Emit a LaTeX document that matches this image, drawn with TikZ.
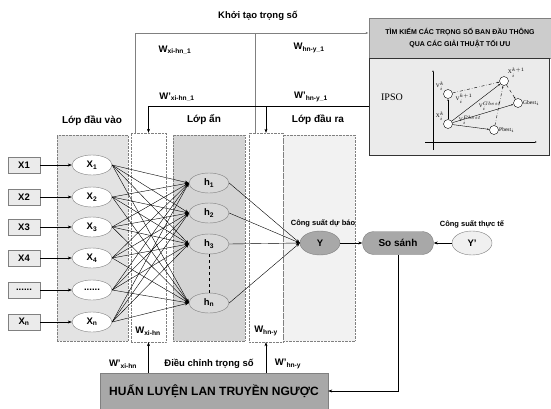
\documentclass[tikz,border=0pt]{standalone}
\usepackage{fontspec}
\setmainfont{Liberation Sans}
\newfontfamily\ipsofont{Liberation Serif}
\usetikzlibrary{arrows.meta,shapes.geometric}

\definecolor{laygray}{HTML}{E3E3E3}
\definecolor{hidgray}{HTML}{D4D4D4}
\definecolor{outgray}{HTML}{F2F2F2}
\definecolor{darkfill}{HTML}{A8A8A8}
\newcommand{\sixdots}{......}

\begin{document}
\begin{tikzpicture}[
  x=1pt, y=-1pt,
  font=\bfseries\fontsize{9.5}{11}\selectfont,
  >={Stealth[length=4pt,width=3pt]},
  layer/.style={draw=gray, densely dotted, minimum width=#1, minimum height=206pt, inner sep=0pt},
  wbox/.style={draw=gray, densely dotted, fill=white, minimum width=35pt, minimum height=209pt, inner sep=0pt},
  inbox/.style={draw=gray, fill=black!8, minimum width=32pt, minimum height=16pt, inner sep=0pt},
  neu/.style={ellipse, draw=gray, fill=white, minimum width=40pt, minimum height=20pt, inner sep=0pt},
  hid/.style={neu, fill=black!15},
  lbl/.style={inner sep=1pt},
  head/.style={font=\bfseries\fontsize{10}{12}\selectfont},
  small/.style={inner sep=1pt, font=\bfseries\fontsize{7.5}{9}\selectfont},
  part/.style={circle, draw, fill=white, minimum size=9pt, inner sep=0pt},
  plbl/.style={font=\ipsofont\fontsize{5.5}{6}\selectfont, inner sep=0.3pt}
]
  \useasboundingbox (0,0) rectangle (551,409);

  % layers
  \node[layer=71pt, fill=laygray] (inl) at (92.5,238) {};
  \node[layer=72pt, fill=hidgray] (hl) at (209,238) {};
  \node[layer=72pt, fill=outgray] (ol) at (319,238) {};
  \node[wbox] (w1) at (148.5,237.5) {};
  \node[wbox, minimum width=34pt] (w2) at (266,237.5) {};
  \node[lbl] at (148,331) {W\textsubscript{xi-hn}};
  \node[lbl] at (266,331) {W\textsubscript{hn-y}};

  \node[head] at (92,121) {Lớp đầu vào};
  \node[head] at (204,120) {Lớp ẩn};
  \node[head] at (318,120) {Lớp đầu ra};

  % inputs
  \foreach \i/\t/\e/\y in {1/X1/X\textsubscript{1}/165, 2/X2/X\textsubscript{2}/197,
      3/X3/X\textsubscript{3}/227, 4/X4/X\textsubscript{4}/258, 5/\sixdots/\sixdots/290,
      6/X\textsubscript{n}/X\textsubscript{n}/322} {
    \node[inbox] (in\i) at (24,\y) {\t};
    \node[neu] (x\i) at (92,\y) {\e};
    \draw[->] (in\i) -- (x\i);
  }

  % hidden
  \node[hid] (h1) at (209,183) {h\textsubscript{1}};
  \node[hid] (h2) at (209,213) {h\textsubscript{2}};
  \node[hid] (h3) at (209,244) {h\textsubscript{3}};
  \node[hid] (h4) at (209,303) {h\textsubscript{n}};
  \draw[dashed] (h3) -- (h4);

  \foreach \a in {1,2,3,4,5,6}
    \foreach \b in {1,2,3,4}
      \draw[->] (x\a.east) -- (h\b.west);

  % output and compare
  \node[neu, fill=darkfill, minimum height=24pt] (y) at (320,243) {Y};
  \node[small] at (323,223) {Công suất dự báo};
  \node[draw=gray, fill=darkfill, rounded corners=11pt, minimum width=71pt, minimum height=23pt,
        font=\bfseries\fontsize{10}{11}\selectfont] (ss) at (398,243) {So sánh};
  \node[neu, fill=black!6, minimum height=24pt] (yp) at (472,243) {Y'};
  \node[small] at (472,224) {Công suất thực tế};
  \foreach \b in {1,2,3,4}
    \draw[->] (h\b.east) -- (y.west);
  \draw[->] (y) -- (ss);
  \draw[->] (yp) -- (ss);

  % training
  \node[draw=gray, fill=darkfill, minimum width=228pt, minimum height=36pt,
        font=\bfseries\fontsize{12}{14}\selectfont] (bp) at (214,391) {HUẤN LUYỆN LAN TRUYỀN NGƯỢC};
  \draw[->] (ss.south) |- (bp.east);
  \draw[->] (bp.north -| w1) -- (w1.south);
  \draw[->] (bp.north -| w2) -- (w2.south);
  \node[lbl] at (123,364) {W'\textsubscript{xi-hn}};
  \node[lbl] at (209,364) {Điều chỉnh trọng số};
  \node[lbl] at (288,364) {W'\textsubscript{hn-y}};

  % optimisation
  \node[draw=gray, fill=black!20, minimum width=182pt, minimum height=40pt, align=center,
        font=\bfseries\fontsize{7}{12}\selectfont] (tim) at (460,38)
        {TÌM KIẾM CÁC TRỌNG SỐ BAN ĐẦU THÔNG\\QUA CÁC GIẢI THUẬT TỐI ƯU};
  \node[draw=black!80, fill=black!8, minimum width=180pt, minimum height=97pt] (ipso) at (459,106.5) {};
  \node[font=\ipsofont\fontsize{10}{11}\selectfont] at (392,97) {IPSO};
  \node[lbl] at (258,16) {Khởi tạo trọng số};

  \coordinate (k) at ([yshift=5pt]tim.west);
  \draw[gray, semithick, -{Latex[length=3pt]}] ([xshift=4pt]w1.north west) |- (k);
  \draw[gray, semithick] ([xshift=6pt]w2.north west) -- ([xshift=6pt]w2.north west |- k);
  \draw[->] (ipso.west) -| (w1.north);
  \draw[->] (ipso.west -| w2.north) -- (w2.north);
  \node[lbl] at (175,50) {W\textsubscript{xi-hn\_1}};
  \node[lbl] at (309,48) {W\textsubscript{hn-y\_1}};
  \node[lbl] at (177,97) {W'\textsubscript{xi-hn\_1}};
  \node[lbl] at (311,97) {W'\textsubscript{hn-y\_1}};

  % particle sketch
  \draw[-{Latex[length=2pt]}, thin] (433,150) -- (433,70);
  \draw[-{Latex[length=2pt]}, thin] (425,142) -- (537,142);
  \node[part] (pv) at (448,94) {};
  \node[part] (px) at (448,124) {};
  \node[part] (pn) at (504,81) {};
  \node[part] (pg) at (518,103) {};
  \node[part] (pp) at (494,130) {};
  \node[plbl, anchor=south east] at (pv.north west) {V$_i^k$};
  \node[plbl, anchor=south east] at (px.north west) {X$_i^k$};
  \node[plbl, anchor=south west] at (pn.north east) {X$_i^{k+1}$};
  \node[plbl, anchor=west] at (pg.east) {Gbest$_i$};
  \node[plbl, anchor=west] at (pp.east) {Pbest$_i$};
  \node[plbl] at (464,99) {V$_i^{k+1}$};
  \node[plbl] at (490,106) {V$_i^{Gbest}$};
  \node[plbl] at (470,120) {V$_i^{Pbest}$};
  \draw[-{Latex[length=2pt]}, thin] (px) -- (pv);
  \draw[-{Latex[length=2pt]}, thin, dash dot] (pv) -- (pn);
  \draw[-{Latex[length=2pt]}, thin] (px) -- (pn);
  \draw[-{Latex[length=2pt]}, thin] (px) -- (pg);
  \draw[-{Latex[length=2pt]}, thin] (px) -- (pp);
  \draw[-{Latex[length=2pt]}, thin, dashed] (pn) -- (pg);
  \draw[-{Latex[length=2pt]}, thin, dash dot] (pp) -- (pn);
\end{tikzpicture}
\end{document}
